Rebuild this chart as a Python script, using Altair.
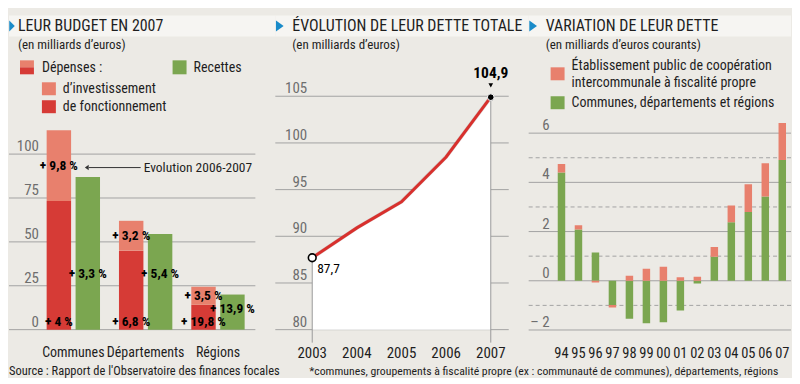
import altair as alt
import pandas as pd

# ---------------- data ----------------
cats = ["Communes", "Départements", "Régions"]
dep_fonct = [73.3, 45.0, 14.2]
dep_invest = [40.3, 17.0, 10.3]
recettes = [87.0, 54.5, 20.0]
lab_fonct = ["+ 4 %", "+ 6,8 %", "+ 19,8 %"]
lab_invest = ["+ 9,8 %", "+ 3,2 %", "+ 3,5 %"]
lab_rec = ["+ 3,3 %", "+ 5,4 %", "+ 13,9 %"]
budget_ticks = [0, 25, 50, 75, 100]

years = [2003, 2004, 2005, 2006, 2007]
dette = [87.7, 90.9, 93.7, 98.5, 104.9]
dette_labels = ["87,7", "", "", "", "104,9"]
dette_ticks = [80, 85, 90, 95, 100, 105]

var_years = ["94", "95", "96", "97", "98", "99", "00", "01", "02", "03", "04", "05", "06", "07"]
var_cdr = [4.40, 2.08, 1.15, -0.98, -1.54, -1.73, -1.69, -1.21, -0.11, 0.98, 2.38, 2.80, 3.43, 4.91]
var_epci = [0.35, 0.18, -0.07, -0.11, 0.20, 0.49, 0.57, 0.14, 0.16, 0.39, 0.68, 1.12, 1.35, 1.50]
var_ticks_major = [-2, 0, 2, 4, 6]
var_ticks_minor = [-1, 1, 3, 5]
var_tick_labels = ["– 2", "0", "2", "4", "6"]

# ---------------- style ----------------
BG = "#ECEAE5"
BAND = "#F6F5F2"
BLUE = "#1A8BC9"
DARKRED = "#D63B36"
SALMON = "#E8806D"
GREEN = "#7BA650"
GRID = "#A3A3A3"
AX = "#6E6E6E"
INK = "#1E1E1E"
LINE = "#D8302D"
FONT = "Liberation Sans Narrow, Roboto Condensed, Arial Narrow, Roboto, sans-serif"

H = 368
W1, W2, W3 = 267, 254, 263
TRI = "M-0.7,-1L0.7,0L-0.7,1Z"
TRI_NARROW = "M-0.5,-1L0.5,0L-0.5,1Z"
one = pd.DataFrame({"a": [0]})


def txt(s, x, y, size=13.5, color=INK, weight="normal", align="left", baseline="middle", **kw):
    return alt.Chart(one).mark_text(
        text=s, font=FONT, fontSize=size, color=color, fontWeight=weight,
        align=align, baseline=baseline, **kw
    ).encode(x=alt.value(x), y=alt.value(y))


def box(x, x2, y, y2, color):
    return alt.Chart(one).mark_rect(color=color).encode(
        x=alt.value(x), x2=alt.value(x2), y=alt.value(y), y2=alt.value(y2))


def header(width, title, subtitle, tx=17, trix=4.5, shape=TRI):
    band = box(0, width, 7, 28, BAND)
    tri = alt.Chart(one).mark_point(shape=shape, filled=True, size=121, color=BLUE, opacity=1).encode(
        x=alt.value(trix), y=alt.value(17.5))
    t = txt(title, tx, 18, size=16, color=INK)
    st = txt(subtitle, tx, 36.5, size=13, color=INK)
    return [band, tri, t, st]


# ---------------- panel 1 : budget ----------------
rows = []
for i, c in enumerate(cats):
    top = dep_fonct[i] + dep_invest[i]
    rows.append(dict(cat=c, kind="Dépenses", part="fonct", y0=0, y1=dep_fonct[i],
                     label=lab_fonct[i], ly=4.3))
    rows.append(dict(cat=c, kind="Dépenses", part="invest", y0=dep_fonct[i], y1=top,
                     label=lab_invest[i], ly=(dep_fonct[i] + top) / 2))
    rows.append(dict(cat=c, kind="Recettes", part="rec", y0=0, y1=recettes[i],
                     label=lab_rec[i], ly=min(31.8, recettes[i] * 0.6)))
bud = pd.DataFrame(rows)

y1s = alt.Scale(domain=[-26.136, 182.955], nice=False, zero=False)
x1s = alt.Scale(domain=cats, paddingInner=0, paddingOuter=0.3414, align=0.5707)
xo1s = alt.Scale(domain=["Dépenses", "Recettes"], paddingInner=0.1552, paddingOuter=0.3276)
col1 = alt.Scale(domain=["fonct", "invest", "rec"], range=[DARKRED, SALMON, GREEN])

tick1 = pd.DataFrame({"v": budget_ticks})
grid1 = alt.Chart(tick1).mark_rule(color=GRID, strokeWidth=1).encode(
    y=alt.Y("v:Q", scale=y1s, axis=None), x=alt.value(0), x2=alt.value(247))
ylab1 = alt.Chart(tick1).mark_text(font=FONT, fontSize=15, color=AX, align="right",
                                   baseline="alphabetic", dy=-3).encode(
    y=alt.Y("v:Q", scale=y1s, axis=None), x=alt.value(30), text="v:Q")

bars1 = alt.Chart(bud).mark_bar().encode(
    x=alt.X("cat:N", scale=x1s, axis=None),
    xOffset=alt.XOffset("kind:N", scale=xo1s),
    y=alt.Y("y0:Q", scale=y1s, axis=None),
    y2="y1:Q",
    color=alt.Color("part:N", scale=col1, legend=None),
)
labs1 = alt.Chart(bud).mark_text(font=FONT, fontSize=13.5, fontWeight="bold", color="black",
                                 align="center", baseline="middle").encode(
    x=alt.X("cat:N", scale=x1s, axis=None),
    xOffset=alt.XOffset("kind:N", scale=xo1s),
    y=alt.Y("ly:Q", scale=y1s, axis=None),
    text="label:N",
)
catlab = alt.Chart(pd.DataFrame({"cat": cats})).mark_text(
    font=FONT, fontSize=14, color=INK, baseline="middle").encode(
    x=alt.X("cat:N", scale=x1s, axis=None), y=alt.value(345), text="cat:N")

arrow_line = alt.Chart(one).mark_rule(color="#333", strokeWidth=1).encode(
    x=alt.value(80), x2=alt.value(132), y=alt.value(159.5))
arrow_head = alt.Chart(one).mark_point(shape="M0.7,-1L-0.7,0L0.7,1Z", filled=True, size=30,
                                       color="#333", opacity=1).encode(
    x=alt.value(78), y=alt.value(159.5))
arrow_txt = txt("Evolution 2006-2007", 135, 159.5, size=13.5)

leg1 = [
    box(11, 25, 52, 59, SALMON), box(11, 25, 59, 66, DARKRED),
    txt("Dépenses :", 33, 60, size=14),
    box(164, 178, 52, 66, GREEN), txt("Recettes", 185, 59.5, size=14),
    box(33, 47, 74, 87, SALMON), txt("d’investissement", 54, 80.5, size=14),
    box(33, 47, 92, 105, DARKRED), txt("de fonctionnement", 54, 99, size=14),
]
foot1 = txt("Source : Rapport de l'Observatoire des finances focales", 0, 363, size=12.5)

p1 = alt.layer(
    *header(W1, "LEUR BUDGET EN 2007", "(en milliards d’euros)", tx=9, trix=3, shape=TRI_NARROW),
    grid1, ylab1, bars1, labs1, catlab, arrow_line, arrow_head, arrow_txt, *leg1, foot1,
).properties(width=W1, height=H)

# ---------------- panel 2 : dette totale ----------------
det = pd.DataFrame({"year": years, "d": dette, "lab": dette_labels})
ends = det[det["lab"] != ""]
y2s = alt.Scale(domain=[75.0855, 114.402], nice=False, zero=False)
x2s = alt.Scale(domain=[2002.1732, 2007.849], nice=False, zero=False)
X2 = alt.X("year:Q", scale=x2s, axis=None)

tick2 = pd.DataFrame({"v": dette_ticks})
grid2 = alt.Chart(tick2).mark_rule(color=GRID, strokeWidth=1).encode(
    y=alt.Y("v:Q", scale=y2s, axis=None), x=alt.value(0), x2=alt.value(234))
ylab2 = alt.Chart(tick2).mark_text(font=FONT, fontSize=15, color=AX, align="right",
                                   baseline="alphabetic", dy=-3).encode(
    y=alt.Y("v:Q", scale=y2s, axis=None), x=alt.value(32), text="v:Q")
area2 = alt.Chart(det).mark_area(color="white", opacity=1).encode(
    x=X2, y=alt.Y("d:Q", scale=y2s, axis=None), y2=alt.datum(80))
vrule2 = alt.Chart(ends).mark_rule(color="#9A9A9A", strokeWidth=1).encode(
    x=X2, y=alt.Y("d:Q", scale=y2s, axis=None), y2=alt.value(335))
shadow2 = alt.Chart(det).mark_line(color="#000", opacity=0.12, strokeWidth=4).encode(
    x=X2, y=alt.Y("d:Q", scale=y2s, axis=None))
line2 = alt.Chart(det).mark_line(color=LINE, strokeWidth=3).encode(
    x=X2, y=alt.Y("d:Q", scale=y2s, axis=None))
pt_first = alt.Chart(ends.iloc[[0]]).mark_point(filled=True, fill="white", stroke="black",
                                                 strokeWidth=1.6, size=60, opacity=1).encode(
    x=X2, y=alt.Y("d:Q", scale=y2s, axis=None))
pt_last = alt.Chart(ends.iloc[[1]]).mark_point(filled=True, fill="black", stroke="white",
                                                strokeWidth=1, size=45, opacity=1).encode(
    x=X2, y=alt.Y("d:Q", scale=y2s, axis=None))
lab_first = alt.Chart(ends.iloc[[0]]).mark_text(font=FONT, fontSize=13.5, color="black",
                                                 align="left", baseline="middle", dx=5, dy=11).encode(
    x=X2, y=alt.Y("d:Q", scale=y2s, axis=None), text="lab:N")
lab_last = alt.Chart(ends.iloc[[1]]).mark_text(font=FONT, fontSize=15.5, fontWeight="bold",
                                                color="black", align="center", baseline="middle",
                                                dy=-24).encode(
    x=X2, y=alt.Y("d:Q", scale=y2s, axis=None), text="lab:N")
tri_last = alt.Chart(ends.iloc[[1]]).mark_point(shape="M-1,-0.8L1,-0.8L0,1Z", filled=True,
                                                 size=22, color="black", opacity=1, yOffset=-12).encode(
    x=X2, y=alt.Y("d:Q", scale=y2s, axis=None))
yearlab = alt.Chart(det).mark_text(font=FONT, fontSize=15, color=INK, baseline="middle").encode(
    x=X2, y=alt.value(345), text="year:O")
foot2 = txt("*communes, groupements à fiscalité propre (ex : communauté de communes), départements, régions",
            34, 363, size=11.8, limit=484)

p2 = alt.layer(
    *header(W2, "ÉVOLUTION DE LEUR DETTE TOTALE", "(en milliards d’euros)"),
    grid2, ylab2, area2, vrule2, shadow2, line2, pt_first, pt_last, lab_first, tri_last, lab_last,
    yearlab, foot2,
).properties(width=W2, height=H)

# ---------------- panel 3 : variation ----------------
segs = []
for i, yr in enumerate(var_years):
    g = var_cdr[i]
    r = var_epci[i]
    segs.append(dict(idx=i, yr=yr, s="cdr", y0=0, y1=g))
    base = max(g, 0) if r >= 0 else min(g, 0)
    segs.append(dict(idx=i, yr=yr, s="epci", y0=base, y1=base + r))
var = pd.DataFrame(segs)
yrs = pd.DataFrame({"idx": list(range(len(var_years))), "yr": var_years})

y3s = alt.Scale(domain=[-3.8514, 11.0676], nice=False, zero=False)
x3s = alt.Scale(domain=[-1.6384, 13.2203], nice=False, zero=False)
col3 = alt.Scale(domain=["cdr", "epci"], range=[GREEN, SALMON])

tmaj = pd.DataFrame({"v": var_ticks_major, "lab": var_tick_labels})
tmin = pd.DataFrame({"v": var_ticks_minor})
grid3 = alt.Chart(tmaj).mark_rule(color=GRID, strokeWidth=1).encode(
    y=alt.Y("v:Q", scale=y3s, axis=None), x=alt.value(0), x2=alt.value(W3))
grid3b = alt.Chart(tmin).mark_rule(color=GRID, strokeWidth=1, strokeDash=[4, 3]).encode(
    y=alt.Y("v:Q", scale=y3s, axis=None), x=alt.value(0), x2=alt.value(W3))
ylab3 = alt.Chart(tmaj).mark_text(font=FONT, fontSize=15, color=AX, align="right",
                                  baseline="alphabetic", dy=-3).encode(
    y=alt.Y("v:Q", scale=y3s, axis=None), x=alt.value(21), text="lab:N")
bars3 = alt.Chart(var).mark_bar(width=7.5, clip=True).encode(
    x=alt.X("idx:Q", scale=x3s, axis=None),
    y=alt.Y("y0:Q", scale=y3s, axis=None),
    y2="y1:Q",
    color=alt.Color("s:N", scale=col3, legend=None),
)
yr3 = alt.Chart(yrs).mark_text(font=FONT, fontSize=14.5, color=INK, baseline="middle", clip=True).encode(
    x=alt.X("idx:Q", scale=x3s, axis=None), y=alt.value(346), text="yr:N")
leg3 = [
    box(22, 36, 59, 72, SALMON),
    txt("Établissement public de coopération", 43, 57.5, size=14),
    txt("intercommunale à fiscalité propre", 43, 74.5, size=14),
    box(22, 36, 88, 101, GREEN),
    txt("Communes, départements et régions", 43, 94.5, size=14),
]

p3 = alt.layer(
    *header(W3, "VARIATION DE LEUR DETTE", "(en milliards d’euros courants)"),
    grid3, grid3b, ylab3, bars3, yr3, *leg3,
).properties(width=W3, height=H)

chart = alt.hconcat(p1, p2, p3, spacing=0).properties(
    padding=0, bounds="flush", background=BG
).resolve_scale(color="independent").configure_view(stroke=None)

chart.save("out.html", embed_options={"renderer": "svg", "actions": False})
